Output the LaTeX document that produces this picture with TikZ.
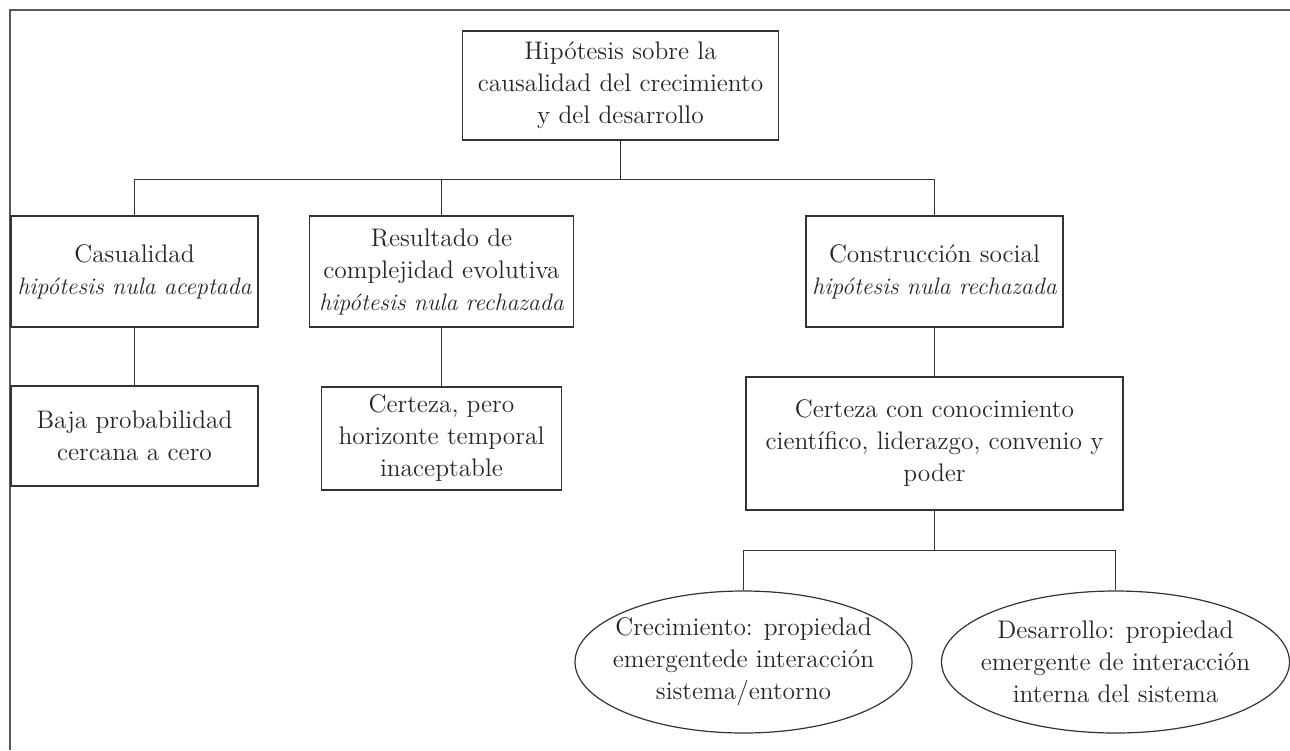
\documentclass[tikz,border=0pt]{standalone}
\usetikzlibrary{shapes.geometric}
\newcommand{\hipo}[1]{{\fontsize{11.9}{16}\selectfont\itshape #1}}
\begin{document}
\begin{tikzpicture}[x=0.5pt,y=-0.5pt,color=black!80,line width=0.6pt,
    every node/.style={font=\fontsize{12.7}{16}\selectfont,text=black!85},
    box/.style={draw,rectangle,align=center,inner sep=1pt},
    bubble/.style={draw,ellipse,align=center,inner xsep=-10pt,inner ysep=0pt,
      minimum width=168.5pt,minimum height=71pt}]
    \useasboundingbox (0,0) rectangle (1290,750);
    \draw[line width=1pt,black!65] (10,750) -- (10,10) -- (1290,10);
    % first level
    \node (top) at (620.5,85.5) [box,minimum width=158pt,minimum height=54.5pt] {Hipótesis sobre la\\causalidad del crecimiento\\y del desarrollo};
    \node (cas) at (134.5,271.5) [box,minimum width=123.5pt,minimum height=55.5pt] {Casualidad\\\hipo{hipótesis nula aceptada}};
    \node (res) at (441.5,271.5) [box,minimum width=132pt,minimum height=55.5pt] {Resultado de\\complejidad evolutiva\\\hipo{hipótesis nula rechazada}};
    \node (con) at (934.5,271.5) [box,minimum width=128.5pt,minimum height=55.5pt] {Construcción social\\\hipo{hipótesis nula rechazada}};
    % second level
    \node (baja) at (134.5,436) [box,minimum width=123.5pt,minimum height=50pt] {Baja probabilidad\\cercana a cero};
    \node (cert) at (441.5,438.5) [box,minimum width=120pt,minimum height=51.5pt] {Certeza, pero\\horizonte temporal\\inaceptable};
    \node (poder) at (934.5,443.5) [box,minimum width=188.5pt,minimum height=66.5pt] {Certeza con conocimiento\\científico, liderazgo, convenio y\\poder};
    \node (crec) at (743.5,662) [bubble] {Crecimiento: propiedad\\emergentede interacción\\sistema/entorno};
    \node (desa) at (1115.5,662) [bubble,minimum width=174pt] {Desarrollo: propiedad\\emergente de interacción\\interna del sistema};
    % connectors
    \coordinate (fork1) at (620.5,179.5);
    \coordinate (fork2) at (934.5,550.5);
    \draw (top) -- (fork1);
    \draw (cas) |- (fork1) -| (con);
    \draw (res) -- (res |- fork1);
    \draw (cas) -- (baja);
    \draw (res) -- (cert);
    \draw (con) -- (poder);
    \draw (poder) -- (fork2);
    \draw (crec) |- (fork2) -| (desa);
\end{tikzpicture}
\end{document}
